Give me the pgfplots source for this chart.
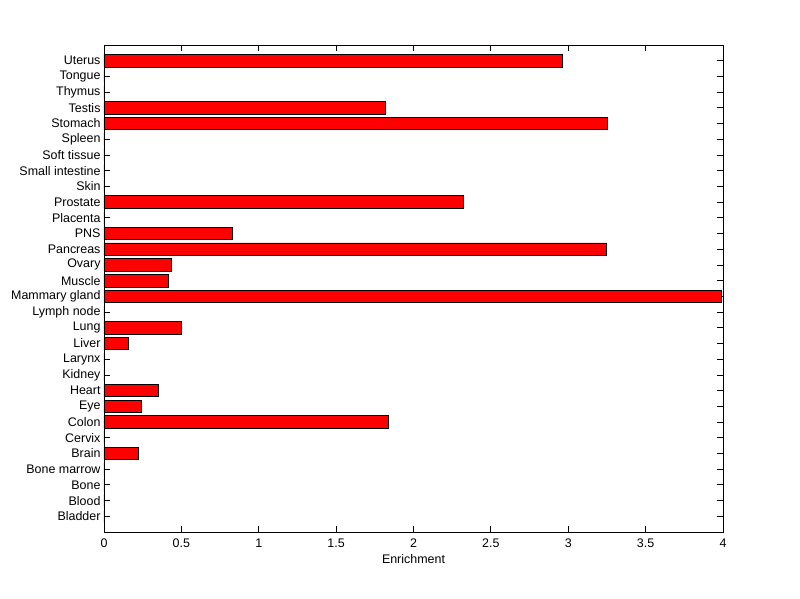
\documentclass[border=0pt]{standalone}
\usepackage{pgfplots}
\pgfplotsset{compat=1.18}
\usepackage{fontspec}
\setmainfont{Liberation Sans}
\begin{document}
\begin{tikzpicture}
\begin{axis}[
  name=ax,
  scale only axis,
  width=619bp, height=487bp,
  xbar, bar width=0.8,
  xmin=0, xmax=4, ymin=0, ymax=31,
  xtick={0,0.5,1,1.5,2,2.5,3,3.5,4},
  xticklabels={0,0.5,1,1.5,2,2.5,3,3.5,4},
  ytick={1,...,30},
  yticklabels={Bladder,Blood,Bone,Bone marrow,Brain,Cervix,Colon,Eye,Heart,Kidney,Larynx,Liver,Lung,Lymph node,Mammary gland,Muscle,Ovary,Pancreas,PNS,Placenta,Prostate,Skin,Small intestine,Soft tissue,Spleen,Stomach,Testis,Thymus,Tongue,Uterus},
  tick align=inside,
  major tick length=6bp,
  tick style={black, line width=0.8pt},
  axis line style={black, line width=0.8pt},
  ticklabel style={font=\fontsize{12.5}{14}\selectfont},
  xticklabel style={yshift=-3bp},
  xlabel={Enrichment},
  xlabel style={font=\fontsize{12.5}{14}\selectfont, yshift=0bp},
  /pgf/number format/assume math mode=true,
]
\addplot[fill=red, draw=black, line width=0.8pt] coordinates {
 (0,1) (0,2) (0,3) (0,4) (0.22,5) (0,6) (1.835,7) (0.24,8) (0.35,9) (0,10)
 (0,11) (0.155,12) (0.50,13) (0,14) (3.99,15) (0.414,16) (0.433,17) (3.244,18) (0.827,19) (0,20)
 (2.32,21) (0,22) (0,23) (0,24) (0,25) (3.25,26) (1.816,27) (0,28) (0,29) (2.96,30)
};
\end{axis}
\useasboundingbox ([xshift=-104bp,yshift=-67bp]ax.south west) rectangle ([xshift=77bp,yshift=45bp]ax.north east);
\end{tikzpicture}
\end{document}
